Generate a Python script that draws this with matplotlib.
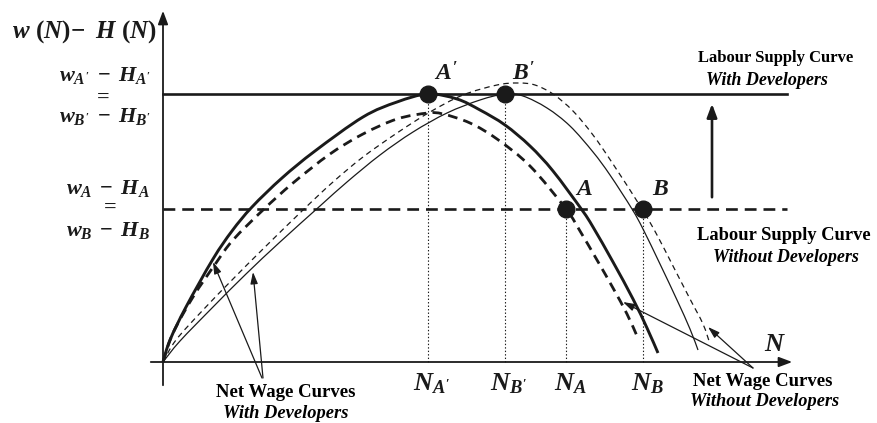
import matplotlib
matplotlib.use("Agg")
import matplotlib.pyplot as plt
from matplotlib.path import Path
from matplotlib.patches import PathPatch

plt.rcParams["font.family"] = ["Liberation Serif", "DejaVu Serif"]
plt.rcParams["mathtext.fontset"] = "custom"
plt.rcParams["mathtext.it"] = "Liberation Serif:italic:bold"
plt.rcParams["mathtext.rm"] = "Liberation Serif:bold"
plt.rcParams["mathtext.bf"] = "Liberation Serif:bold"
plt.rcParams["lines.scale_dashes"] = False

# ---------------------------------------------------------------------------
# Data (N on the x axis, net wage w(N) - H(N) on the y axis, arbitrary units)
# ---------------------------------------------------------------------------

# net wage curves with developers
n_a_prime = [0, 7, 23, 50, 69, 89, 119, 152, 200, 234, 265, 294, 317, 342,
             367, 390, 419, 430, 450, 470, 484, 495]
w_a_prime = [0, 22, 55, 103, 131, 155, 184, 211, 245, 260, 268, 263, 252, 237,
             216, 191, 152, 135, 100, 63, 34, 9]
n_b_prime = [0, 17, 50, 83, 117, 157, 184, 217, 250, 284, 317, 342, 360, 384,
             407, 430, 447, 469, 480, 497, 514, 527, 535]
w_b_prime = [0, 21, 55, 88, 120, 156, 180, 207, 230, 249, 262, 268, 266, 254,
             236, 210, 187, 153, 133, 98, 62, 33, 12]

# net wage curves without developers
n_a = [0, 10, 30, 53, 70, 100, 130, 167, 200, 234, 265, 280, 307, 334, 367,
       403, 417, 434, 450, 464, 474]
w_a = [0, 29, 65, 99, 122, 152, 179, 208, 228, 243, 249, 248, 239, 223, 196,
       153, 131, 102, 74, 48, 26]
n_b = [0, 13, 40, 70, 100, 140, 170, 200, 234, 267, 300, 334, 355, 372, 390,
       410, 430, 450, 479, 494, 510, 527, 540, 547]
w_b = [0, 22, 52, 83, 113, 152, 180, 205, 229, 250, 267, 277, 279, 277, 268,
       251, 227, 198, 153, 127, 96, 63, 38, 18]

# labour supply levels (net wage)
supply_with = 268
supply_without = 153
supply_end = 624

# equilibria
eq_labels = ["A'", "B'", "A", "B"]
eq_n = [265, 342, 403, 480]
eq_w = [268, 268, 153, 153]
eq_tick = [r"$N_{A'}$", r"$N_{B'}$", r"$N_{A}$", r"$N_{B}$"]

K = "#1a1a1a"


def smooth_path(xs, ys):
    """Catmull-Rom curve through the read points, drawn as cubic Bezier segments."""
    pts = list(zip(xs, ys))
    verts = [pts[0]]
    codes = [Path.MOVETO]
    for i in range(len(pts) - 1):
        p0 = pts[i - 1] if i > 0 else pts[i]
        p1, p2 = pts[i], pts[i + 1]
        p3 = pts[i + 2] if i + 2 < len(pts) else pts[i + 1]
        c1 = (p1[0] + (p2[0] - p0[0]) / 6, p1[1] + (p2[1] - p0[1]) / 6)
        c2 = (p2[0] - (p3[0] - p1[0]) / 6, p2[1] - (p3[1] - p1[1]) / 6)
        verts += [c1, c2, p2]
        codes += [Path.CURVE4] * 3
    return Path(verts, codes)


def draw_curve(ax, xs, ys, **kw):
    ax.add_patch(PathPatch(smooth_path(xs, ys), fill=False, edgecolor=K,
                           capstyle="butt", joinstyle="round", **kw))


fig = plt.figure(figsize=(8.78, 4.23), dpi=100)
ax = fig.add_axes([0, 0, 1, 1])
ax.set_xlim(-163, 715)
ax.set_ylim(-61, 362)
ax.axis("off")

# axes with arrowheads
head = "-|>,head_length=0.8,head_width=0.3"
ax.annotate("", xy=(632, 0), xytext=(-15, 0),
            arrowprops=dict(arrowstyle=head, lw=1.3, color=K))
ax.annotate("", xy=(0, 354), xytext=(0, -26),
            arrowprops=dict(arrowstyle=head, lw=1.3, color=K))

# supply lines
ax.plot([0, supply_end], [supply_with, supply_with], color=K, lw=1.9)
ax.plot([0, supply_end], [supply_without, supply_without], color=K, lw=1.9,
        linestyle=(0, (8.5, 5.0)))

# shift arrow
ax.annotate("", xy=(549, supply_with - 7), xytext=(549, supply_without + 9),
            arrowprops=dict(arrowstyle=head, lw=1.9, color=K))

# net wage curves
draw_curve(ax, n_a_prime, w_a_prime, lw=2.1)
draw_curve(ax, n_b_prime, w_b_prime, lw=0.9)
draw_curve(ax, n_a, w_a, lw=2.0, linestyle=(0, (7.0, 4.5)))
draw_curve(ax, n_b, w_b, lw=0.9, linestyle=(0, (4.0, 3.0)))

# equilibria, drop lines and labels
for lab, n, w, tl in zip(eq_labels, eq_n, eq_w, eq_tick):
    ax.plot([n, n], [0, w], color=K, lw=0.8, linestyle=(0, (1, 1.5)))
    ax.plot(n, w, "o", color=K, markersize=12)
    ax.text(n + 18, w + 20, "$" + lab + "$", fontsize=17, ha="center", va="center", color=K)
    ax.text(n + 4, -22, tl, fontsize=19, ha="center", va="center", color=K)

ax.text(612, 17, "$N$", fontsize=19, ha="center", va="center", color=K)

# y-axis labels
ax.text(-6, 330, r"$w\ (N)\!-\ H\ (N)$", fontsize=18, ha="right", va="center", color=K)
ax.text(-58, 287, r"$w_{A'}\;-\;H_{A'}$", fontsize=16, ha="center", va="center", color=K)
ax.text(-62, 265, r"$=$", fontsize=16, ha="center", va="center", color=K)
ax.text(-58, 246, r"$w_{B'}\;-\;H_{B'}$", fontsize=16, ha="center", va="center", color=K)
ax.text(-55, 174, r"$w_{A}\;-\;H_{A}$", fontsize=16, ha="center", va="center", color=K)
ax.text(-55, 155, r"$=$", fontsize=16, ha="center", va="center", color=K)
ax.text(-55, 132, r"$w_{B}\;-\;H_{B}$", fontsize=16, ha="center", va="center", color=K)

# supply curve captions
ax.text(613, 304, "Labour Supply Curve", fontsize=12, weight="bold", ha="center", va="center")
ax.text(604, 282, "With Developers", fontsize=13, weight="bold", style="italic",
        ha="center", va="center")
ax.text(621, 127, "Labour Supply Curve", fontsize=13.3, weight="bold", ha="center", va="center")
ax.text(623, 105, "Without Developers", fontsize=13, weight="bold", style="italic",
        ha="center", va="center")

# net wage captions with pointers
arr = dict(arrowstyle="-|>,head_length=0.7,head_width=0.22", lw=0.9, color=K,
           shrinkA=0, shrinkB=0)
ax.annotate("", xy=(50, 100), xytext=(99, -16), arrowprops=arr)
ax.annotate("", xy=(90, 90), xytext=(100, -16), arrowprops=arr)
ax.text(123, -30, "Net Wage Curves", fontsize=13.5, weight="bold", ha="center", va="center")
ax.text(123, -51, "With Developers", fontsize=13.3, weight="bold", style="italic",
        ha="center", va="center")

ax.annotate("", xy=(460, 60), xytext=(590, -6), arrowprops=arr)
ax.annotate("", xy=(545, 35), xytext=(590, -6), arrowprops=arr)
ax.text(600, -19, "Net Wage Curves", fontsize=13.5, weight="bold", ha="center", va="center")
ax.text(602, -39, "Without Developers", fontsize=13.2, weight="bold", style="italic",
        ha="center", va="center")

fig.savefig("out.png", dpi=100)
